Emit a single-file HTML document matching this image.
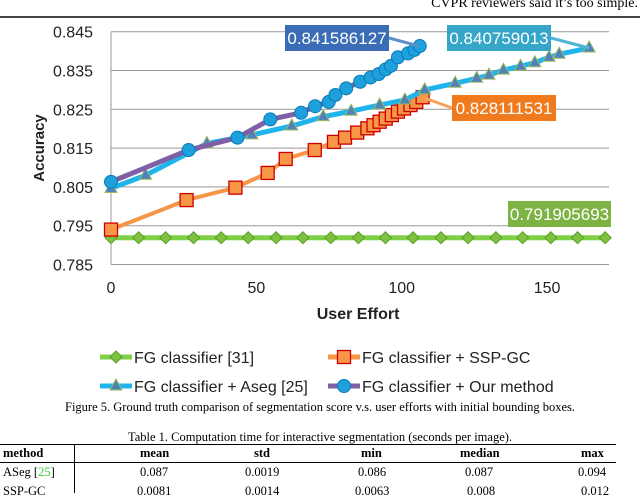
<!DOCTYPE html>
<html><head><meta charset="utf-8"><style>
body{margin:0;width:640px;height:493px;overflow:hidden;background:#fff;font-family:"Liberation Sans",sans-serif;position:relative}
.serif{font-family:"Liberation Serif",serif}
.abs{position:absolute}
</style></head><body>
<div class="abs serif" style="right:2px;top:-4px;font-size:14px">CVPR reviewers said it’s too simple.</div>
<div class="abs" style="left:0;top:16px;width:640px;height:2px;background:#444"></div>
<svg class="abs" style="left:0;top:0" width="640" height="400">
<g id="grid"></g><g id="series"></g><g id="labels"></g>
</svg>
<div class="abs serif" style="left:0;width:640px;text-align:center;top:400px;font-size:12.5px">Figure 5. Ground truth comparison of segmentation score v.s. user efforts with initial bounding boxes.</div>
<div class="abs serif" style="left:0;width:640px;text-align:center;top:430px;font-size:12.5px">Table 1. Computation time for interactive segmentation (seconds per image).</div>
<div class="abs" style="left:0;top:444px;width:616px;height:1.3px;background:#000"></div>
<div class="abs" style="left:0;top:462px;width:616px;height:1px;background:#000"></div>
<div class="abs" style="left:74px;top:444px;width:1px;height:49px;background:#000"></div>
<div class="abs serif" style="left:0;top:445px;width:640px;font-size:12.5px">
<div style="position:absolute;top:1px;left:3px;font-weight:bold">method</div>
<div style="position:absolute;top:1px;left:140px;font-weight:bold">mean</div>
<div style="position:absolute;top:1px;left:254px;font-weight:bold">std</div>
<div style="position:absolute;top:1px;left:361px;font-weight:bold">min</div>
<div style="position:absolute;top:1px;left:460px;font-weight:bold">median</div>
<div style="position:absolute;top:1px;left:581px;font-weight:bold">max</div>
<div style="position:absolute;top:20px;left:3px">ASeg [<span style="color:#3c3">25</span>]</div>
<div style="position:absolute;top:20px;left:140px">0.087</div>
<div style="position:absolute;top:20px;left:245px">0.0019</div>
<div style="position:absolute;top:20px;left:358px">0.086</div>
<div style="position:absolute;top:20px;left:465px">0.087</div>
<div style="position:absolute;top:20px;left:578px">0.094</div>
<div style="position:absolute;top:39px;left:3px">SSP-GC</div>
<div style="position:absolute;top:39px;left:137px">0.0081</div>
<div style="position:absolute;top:39px;left:245px">0.0014</div>
<div style="position:absolute;top:39px;left:355px">0.0063</div>
<div style="position:absolute;top:39px;left:467px">0.008</div>
<div style="position:absolute;top:39px;left:581px">0.012</div>
</div>
<script>
const xTicks=[0,50,100,150];
const yTicks=[0.785,0.795,0.805,0.815,0.825,0.835,0.845];
const fgX=[0,9.5,18.8,28.4,37.9,47.2,56.8,66,75.6,85.1,94.4,103.9,113.5,122.8,132.4,141.6,151.3,160.5,170];
const fgY=fgX.map(()=>0.7919);
const sspX=[0,26,42.8,53.9,60.1,70.1,76.7,80.5,84.7,88.2,90.3,92.4,94.5,96.6,98.7,100.8,103,105,107.2];
const sspY=[0.794,0.8016,0.8048,0.8086,0.8122,0.8145,0.8166,0.8177,0.819,0.8201,0.8209,0.8218,0.8226,0.8235,0.8244,0.8252,0.8261,0.8269,0.8281];
const asegX=[0,11.9,33,48.5,62.2,73,82.6,92.4,101.1,107.9,118.4,125.8,130,135,140.9,145.8,150.7,154.2,164.5];
const asegY=[0.8046,0.808,0.8162,0.8184,0.8207,0.8231,0.8245,0.8261,0.8274,0.83,0.8317,0.833,0.8338,0.8351,0.8361,0.837,0.8384,0.8392,0.8408];
const ourX=[0,26.7,43.5,54.8,65.4,70.2,74.9,77.2,80.9,85.7,89.3,92.1,94.5,96.3,98.7,102.2,104.4,106.2];
const ourY=[0.8063,0.8145,0.8177,0.8224,0.8241,0.8258,0.8269,0.8287,0.8304,0.8321,0.8332,0.8341,0.8353,0.8362,0.8384,0.8394,0.8403,0.8413];
const NS='http://www.w3.org/2000/svg';
const X=v=>111+v*2.907, Y=v=>31.7+(0.845-v)*3880;
function mk(tag,at,parent){const e=document.createElementNS(NS,tag);for(const k in at)e.setAttribute(k,at[k]);parent.appendChild(e);return e;}
const grid=document.getElementById('grid'),ser=document.getElementById('series'),lab=document.getElementById('labels');
yTicks.forEach(t=>{const l=mk('line',{x1:111,x2:609,y1:Y(t),y2:Y(t),stroke:'#999','stroke-width':1},grid);


const tx=mk('text',{x:93,y:Y(t)+6,'text-anchor':'end','font-size':16,fill:'#222'},grid);tx.textContent=t.toFixed(3);

});
mk('line',{x1:111,x2:111,y1:Y(0.845),y2:Y(0.785),stroke:'#999'},grid);
xTicks.forEach(t=>{const tx=mk('text',{x:X(t),y:293,'text-anchor':'middle','font-size':16,fill:'#222'},grid);tx.textContent=t;

});
let t1=mk('text',{x:X(85),y:319,'text-anchor':'middle','font-size':16,'font-weight':'bold',fill:'#222'},grid);t1.textContent='User Effort';


let t2=mk('text',{x:0,y:0,transform:'translate(44,148) rotate(-90)','text-anchor':'middle','font-size':15,'font-weight':'bold',fill:'#222'},grid);t2.textContent='Accuracy';


function marker(kind,cx,cy,g,s){
 if(kind==='d')return mk('polygon',{points:`${cx},${cy-6} ${cx+6},${cy} ${cx},${cy+6} ${cx-6},${cy}`,fill:'#7fc241',stroke:'#5a9e2a'},g);
 if(kind==='s')return mk('rect',{x:cx-6.5,y:cy-6.5,width:13,height:13,fill:'#f79646',stroke:'#c00','stroke-width':1.3},g);
 if(kind==='t')return mk('polygon',{points:`${cx},${cy-7} ${cx+6},${cy+4} ${cx-6},${cy+4}`,fill:'#4f81bd',stroke:'#9bbb59'},g);
 return mk('circle',{cx:cx,cy:cy,r:s||6.5,fill:'#1ea0dc',stroke:'#0a7ab8'},g);
}
function series(name,xs,ys,color,kind,w){const g=mk('g',{},ser);
 
 
 mk('polyline',{points:xs.map((x,i)=>X(x)+','+Y(ys[i])).join(' '),fill:'none',stroke:color,'stroke-width':w,'stroke-linejoin':'round'},g);
 xs.forEach((x,i)=>{const m=marker(kind,X(x),Y(ys[i]),g);
 
 });}
series('fg-classifier-series',fgX,fgY,'#7fd046','d',5);
series('ssp-gc-series',sspX,sspY,'#f79646','s',4);
series('aseg-series',asegX,asegY,'#1fb4ec','t',5);
series('our-method-series',ourX,ourY,'#7f5fa6','c',5);
function callout(name,x,y,w,bg,txt,ax,ay,bx,by,ac){
 mk('line',{x1:ax,y1:ay,x2:bx,y2:by,stroke:ac,'stroke-width':3},lab);
 const r=mk('rect',{x:x,y:y,width:w,height:26,fill:bg},lab);
 
 
 const t=mk('text',{x:x+w/2,y:y+19,'text-anchor':'middle','font-size':17,fill:'#fff'},lab);t.textContent=txt;}
callout('callout-our-method',285,25,104,'#3a6db5','0.841586127',X(106),Y(0.8413),389,38,'#5b8fc7');
callout('callout-aseg',447,25,104,'#35a6c8','0.840759013',X(164.5),Y(0.8408),551,38,'#4fb5d5');
callout('callout-ssp-gc',452,95,104,'#f07b1e','0.828111531',X(107.2),Y(0.8281),452,108,'#f7a05a');
callout('callout-fg',508,201,103,'#7db343','0.791905693',0,0,0,0,'none');
function legend(name,x,y,color,kind,txt){const g=mk('g',{},lab);
 
 
 mk('line',{x1:x,x2:x+32,y1:y,y2:y,stroke:color,'stroke-width':5},g);marker(kind,x+16,y,g);
 const t=mk('text',{x:x+34,y:y+6,'font-size':16,fill:'#222'},g);t.textContent=txt;}
legend('legend-fg-classifier',100,357,'#7fd046','d','FG classifier [31]');
legend('legend-ssp-gc',328,357,'#f79646','s','FG classifier + SSP-GC');
legend('legend-aseg',100,386,'#1fb4ec','t','FG classifier + Aseg [25]');
legend('legend-our-method',328,386,'#7f5fa6','c','FG classifier + Our method');
</script>
</body></html>
